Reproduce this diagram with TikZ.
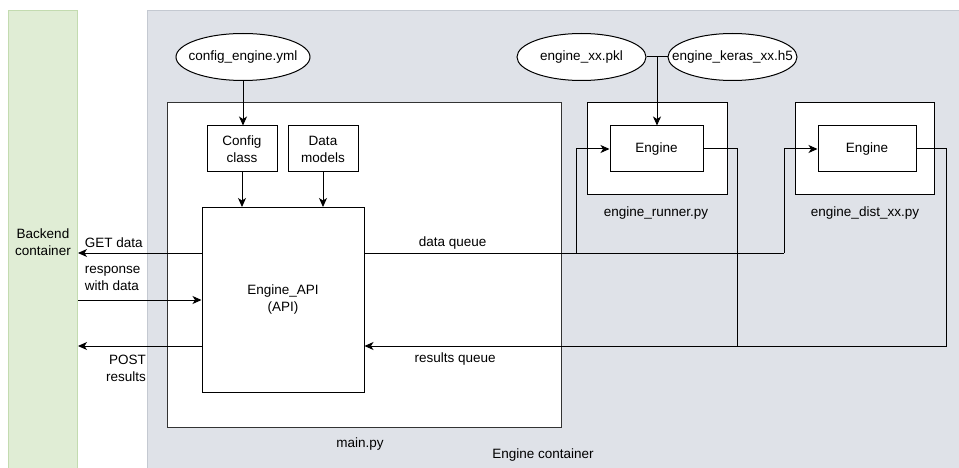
\documentclass[tikz,border=0pt]{standalone}
\usepackage{fontspec}
\setmainfont{Liberation Sans}
\usetikzlibrary{positioning,arrows.meta,shapes.geometric}
\definecolor{BackendGreen}{HTML}{E0EDD5}
\definecolor{BackendLine}{HTML}{C3DBB0}
\definecolor{EngineGray}{HTML}{DFE2E8}
\definecolor{EngineLine}{HTML}{C4C9D1}

\begin{document}
\begin{tikzpicture}[x=1pt, y=-1pt, every node/.style={font=\fontsize{13.5}{17}\selectfont},
  box/.style={draw, fill=white, line width=1pt, inner sep=0pt},
  file/.style={draw, fill=white, ellipse, line width=1pt, inner xsep=-20pt, inner ysep=0pt, minimum width=129pt, minimum height=47pt},
  flow/.style={-{Stealth[length=9pt,width=8pt,inset=2.5pt]}, line width=1pt},
  wire/.style={line width=1pt}]
\useasboundingbox (0,0) rectangle (959,468);
% containers
\node[draw=BackendLine, fill=BackendGreen, line width=1pt, anchor=north west, minimum width=69pt, minimum height=464pt, inner sep=0pt, align=center] (backend) at (8,10) {Backend\\container};
\node[draw=EngineLine, fill=EngineGray, line width=1pt, anchor=north west, minimum width=830pt, minimum height=470pt] (engine) at (147,10) {};
\node (enginelabel) at (543,455) {Engine container};
% main.py
\node[box, draw=black!80, minimum width=394pt, minimum height=324pt] (mainpy) at (364,265) {};
\node (mainlabel) at (360,444) {main.py};
\node[file, minimum width=134pt] (cfgfile) at (243,57) {config\_engine.yml};
\node[box, minimum width=70pt, minimum height=46pt, align=center] (config) at (242,149) {Config\\class};
\node[box, minimum width=70pt, minimum height=46pt, align=center] (models) at (323,149) {Data\\models};
\node[box, minimum width=162pt, minimum height=185pt, align=center] (api) at (283,300) {Engine\_API\\(API)};
% engine scripts
\node[box, minimum width=140pt, minimum height=92pt] (runner) at (657,149) {};
\node[box, minimum width=93pt, minimum height=46pt] (engA) at (656.5,149) {Engine};
\node (runnerlabel) at (656,213) {engine\_runner.py};
\node[box, minimum width=139pt, minimum height=92pt] (dist) at (864.5,149) {};
\node[box, minimum width=98pt, minimum height=46pt] (engB) at (867,149) {Engine};
\node (distlabel) at (865,213) {engine\_dist\_xx.py};
\node[file] (pkl) at (581.5,57) {engine\_xx.pkl};
\node[file] (keras) at (732.5,57) {engine\_keras\_xx.h5};
% rows and junctions
\coordinate (getrow) at (0,253);
\coordinate (resprow) at (0,300);
\coordinate (postrow) at (0,346);
\coordinate (splitA) at (576,253);
\coordinate (splitB) at (784,253);
\coordinate (mergeA) at (737,346);
\coordinate (mergeB) at (946,346);
\coordinate (join) at (657,57);
% connectors
\draw[flow] (cfgfile.south) -- (cfgfile.south |- config.north);
\draw[flow] (config) -- (config |- api.north);
\draw[flow] (models) -- (models |- api.north);
\draw[flow] (api.west |- getrow) -- (backend.east |- getrow) node[pos=1, anchor=south west, xshift=3pt, yshift=2pt] {GET data};
\draw[flow] (backend.east |- resprow) -- (api.west |- resprow) node[pos=0, anchor=south west, align=left, xshift=3pt, yshift=6pt] {response\\with data};
\draw[flow] (api.west |- postrow) -- (backend.east |- postrow) node[pos=0.42, anchor=north east, align=right, yshift=-5pt] {POST\\results};
\draw[wire] (api.east |- getrow) -- (splitB) node[pos=0.21, above] {data queue};
\draw[flow] (splitA) |- (engA.west);
\draw[flow] (splitB) |- (engB.west);
\draw[wire] (engA.east) -| (mergeA);
\draw[flow] (engB.east) -| (mergeB) -- (api.east |- postrow) node[pos=0.844, below, yshift=-3pt] {results queue};
\draw[wire] (pkl.east) -- (keras.west);
\draw[flow] (join) -- (join |- engA.north);
\end{tikzpicture}
\end{document}
